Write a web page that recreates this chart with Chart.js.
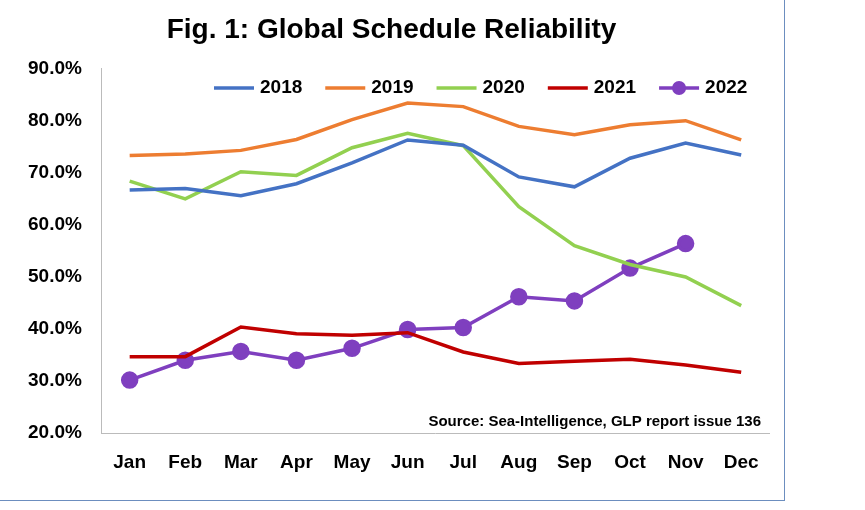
<!DOCTYPE html>
<html><head>
<script src="https://cdn.jsdelivr.net/npm/chart.js@4"></script>
<style>
body{margin:0;background:#fff}
#wrap{position:absolute;left:0;top:0;width:784px;height:500px;border-right:1px solid #6c8ebf;border-bottom:1px solid #6c8ebf}
</style></head><body>
<div id="wrap"><canvas id="c"></canvas></div>
<script>
const months=["Jan","Feb","Mar","Apr","May","Jun","Jul","Aug","Sep","Oct","Nov","Dec"];
const s2018=[66.7,67.0,65.6,67.9,71.9,76.3,75.3,69.2,67.3,72.8,75.7,73.4];
const s2019=[73.3,73.6,74.3,76.4,80.2,83.4,82.7,78.9,77.3,79.2,80.0,76.3];
const s2020=[68.4,65.0,70.2,69.5,74.8,77.6,75.2,63.5,56.0,52.4,50.0,44.5];
const s2021=[34.7,34.7,40.4,39.1,38.8,39.3,35.6,33.4,33.8,34.2,33.1,31.7];
const s2022=[30.2,34.0,35.7,34.0,36.3,39.9,40.3,46.2,45.4,51.7,56.4,null];
const F="'Liberation Sans', Arial, sans-serif";
const mk=(l,d,c,pt)=>({label:l,data:d,borderColor:c,backgroundColor:c,borderWidth:3.5,pointRadius:pt?7:0,pointHoverRadius:pt?7:0,tension:0});
const extra={id:'extra',afterDraw(ch){const a=ch.chartArea,x=ch.ctx;x.save();
x.font="bold 15px "+F;x.fillStyle="#000";x.textAlign="right";x.textBaseline="bottom";x.fillText("Source: Sea-Intelligence, GLP report issue 136",a.right-8,a.bottom-4);
x.font="bold 19px "+F;x.textAlign="left";x.textBaseline="middle";
const y=88;let px=a.right-555;
ch.data.datasets.forEach(d=>{x.strokeStyle=d.borderColor;x.lineWidth=3.5;x.beginPath();x.moveTo(px,y);x.lineTo(px+40,y);x.stroke();
if(d.pointRadius){x.fillStyle=d.borderColor;x.beginPath();x.arc(px+20,y,7,0,Math.PI*2);x.fill();}
x.fillStyle="#000";x.fillText(d.label,px+46,y);px+=46+x.measureText(d.label).width+23;});
x.restore();}};
new Chart(document.getElementById('c'),{type:'line',
data:{labels:months,datasets:[mk('2018',s2018,'#4472C4'),mk('2019',s2019,'#ED7D31'),mk('2020',s2020,'#92D050'),mk('2021',s2021,'#C00000'),mk('2022',s2022,'#7F3FBF',true)]},
options:{responsive:true,maintainAspectRatio:false,animation:false,
layout:{padding:{left:14,right:15,top:5,bottom:14}},
plugins:{title:{display:true,text:'Fig. 1: Global Schedule Reliability',font:{family:F,size:28,weight:'bold'},color:'#000',padding:{top:8,bottom:22}},
legend:{display:false},tooltip:{enabled:false}},
scales:{x:{offset:true,grid:{display:false,drawTicks:true,tickLength:6,color:'#bbb'},border:{color:'#bbb'},ticks:{font:{family:F,size:19,weight:'bold'},color:'#000',padding:12}},
y:{min:20,max:90,ticks:{stepSize:10,callback:v=>v.toFixed(1)+'%',font:{family:F,size:19,weight:'bold'},color:'#000',padding:14},grid:{display:false,drawTicks:true,tickLength:6},border:{color:'#bbb'}}}},
plugins:[extra]});
</script></body></html>
